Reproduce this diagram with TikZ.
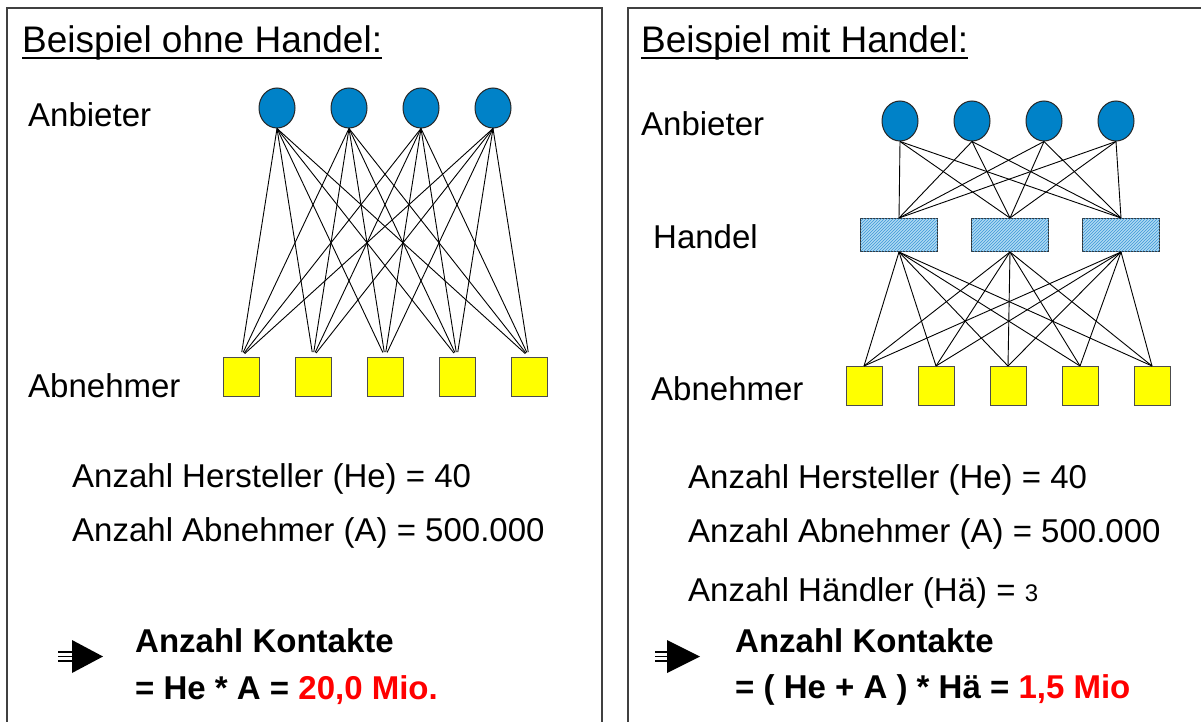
\documentclass[tikz,border=0pt]{standalone}
\usepackage{fontspec}
\setmainfont{Liberation Sans}
\usetikzlibrary{shapes.geometric,patterns}

\definecolor{anbieterblau}{RGB}{0,130,200}
\definecolor{abnehmergelb}{RGB}{255,255,0}
\definecolor{handelblau}{RGB}{175,218,243}
\definecolor{schraffur}{RGB}{60,150,215}
\definecolor{mio}{RGB}{255,0,0}

\tikzset{
  anbieter/.style={ellipse, draw=black!85, fill=anbieterblau, line width=1pt,
    minimum width=36pt, minimum height=40pt, inner sep=0pt},
  abnehmer/.style={rectangle, draw=black!70, fill=abnehmergelb, line width=1pt,
    minimum width=36pt, minimum height=39pt, inner sep=0pt},
  haendler/.style={rectangle, draw=black!80, fill=handelblau, line width=1pt,
    minimum width=77pt, minimum height=33pt, inner sep=0pt,
    postaction={pattern=north east lines, pattern color=schraffur}},
  kante/.style={line width=0.9pt},
  beschr/.style={anchor=base west, inner sep=0pt, font=\fontsize{33}{39}\selectfont},
  fett/.style={beschr, font=\fontsize{33}{39}\selectfont\bfseries},
  titel/.style={anchor=base west, inner sep=0pt, font=\fontsize{37}{44}\selectfont},
  rahmen/.style={draw=black!75, line width=2pt},
  pfeil/.style={fill=black}
}

\begin{document}
\begin{tikzpicture}[x=1pt, y=-1pt, node distance=72pt]
  \useasboundingbox (0,0) rectangle (1201,722);
  \draw[rahmen] (7,8) rectangle (602,740);
  \draw[rahmen] (628,8) rectangle (1215,740);

  % ohne Handel
  \node[titel] (titelL) at (22,53) {Beispiel ohne Handel:};
  \draw[line width=2.5pt] ([yshift=-5pt]titelL.base west) -- ([yshift=-5pt]titelL.base east);

  \node[beschr] (anbL) at (28,127) {Anbieter};
  \node[beschr] (abnL) at (28,397) {Abnehmer};

  \node[anbieter] (a1) at (277,108) {};
  \node[anbieter] (a2) [right of=a1] {};
  \node[anbieter] (a3) [right of=a2] {};
  \node[anbieter] (a4) [right of=a3] {};
  \node[abnehmer] (b1) at (241,377) {};
  \node[abnehmer] (b2) [right of=b1] {};
  \node[abnehmer] (b3) [right of=b2] {};
  \node[abnehmer] (b4) [right of=b3] {};
  \node[abnehmer] (b5) [right of=b4] {};

  \path[kante, shorten >=5pt]
        (a1.south) edge (b1.north) edge (b2.north) edge (b3.north) edge (b4.north) edge (b5.north)
        (a2.south) edge (b1.north) edge (b2.north) edge (b3.north) edge (b4.north) edge (b5.north)
        (a3.south) edge (b1.north) edge (b2.north) edge (b3.north) edge (b4.north) edge (b5.north)
        (a4.south) edge (b1.north) edge (b2.north) edge (b3.north) edge (b4.north) edge (b5.north)
        ;

  \node[beschr] (heL)  at (72,487) {Anzahl Hersteller (He) = 40};
  \node[beschr] (abL)  at (72,541) {Anzahl Abnehmer (A) = 500.000};
  \node[fett] (kontL)  at (135,652) {Anzahl Kontakte};
  \node[fett] (formL)  at (135,699) {= He * A = \textcolor{mio}{20,0 Mio.}};
  \fill[pfeil] (72,640) -- (103,656.5) -- (72,673) -- cycle;
  \draw[line width=1.3pt] (58,652) -- (74,652) (58,656.5) -- (74,656.5) (58,661) -- (74,661);

  % mit Handel
  \node[titel] (titelR) at (641,53) {Beispiel mit Handel:};
  \draw[line width=2.5pt] ([yshift=-5pt]titelR.base west) -- ([yshift=-5pt]titelR.base east);

  \node[beschr] (anbR) at (641,136) {Anbieter};
  \node[beschr] (hanR) at (653,248) {Handel};
  \node[beschr] (abnR) at (651,400) {Abnehmer};

  \node[anbieter] (c1) at (900,121) {};
  \node[anbieter] (c2) [right of=c1] {};
  \node[anbieter] (c3) [right of=c2] {};
  \node[anbieter] (c4) [right of=c3] {};
  \node[haendler] (h1) at (899,235) {};
  \node[haendler] (h2) [right of=h1, node distance=111pt] {};
  \node[haendler] (h3) [right of=h2, node distance=111pt] {};
  \node[abnehmer] (d1) at (864,386) {};
  \node[abnehmer] (d2) [right of=d1] {};
  \node[abnehmer] (d3) [right of=d2] {};
  \node[abnehmer] (d4) [right of=d3] {};
  \node[abnehmer] (d5) [right of=d4] {};

  \path[kante]
        (c1.south) edge (h1.north) edge (h2.north) edge (h3.north)
        (c2.south) edge (h1.north) edge (h2.north) edge (h3.north)
        (c3.south) edge (h1.north) edge (h2.north) edge (h3.north)
        (c4.south) edge (h1.north) edge (h2.north) edge (h3.north)
        (h1.south) edge (d1.north) edge (d2.north) edge (d3.north) edge (d4.north) edge (d5.north)
        (h2.south) edge (d1.north) edge (d2.north) edge (d3.north) edge (d4.north) edge (d5.north)
        (h3.south) edge (d1.north) edge (d2.north) edge (d3.north) edge (d4.north) edge (d5.north)
        ;

  \node[beschr] (heR)  at (688,488) {Anzahl Hersteller (He) = 40};
  \node[beschr] (abR)  at (688,542) {Anzahl Abnehmer (A) = 500.000};
  \node[beschr] (haR)  at (688,601) {Anzahl Händler (Hä) = {\fontsize{24}{28}\selectfont 3}};
  \node[fett] (kontR)  at (735,652) {Anzahl Kontakte};
  \node[fett] (formR)  at (735,698) {= ( He + A ) * Hä = \textcolor{mio}{1,5 Mio}};
  \fill[pfeil] (667,640) -- (700,656.5) -- (667,673) -- cycle;
  \draw[line width=1.3pt] (655,652) -- (669,652) (655,656.5) -- (669,656.5) (655,661) -- (669,661);
\end{tikzpicture}
\end{document}
